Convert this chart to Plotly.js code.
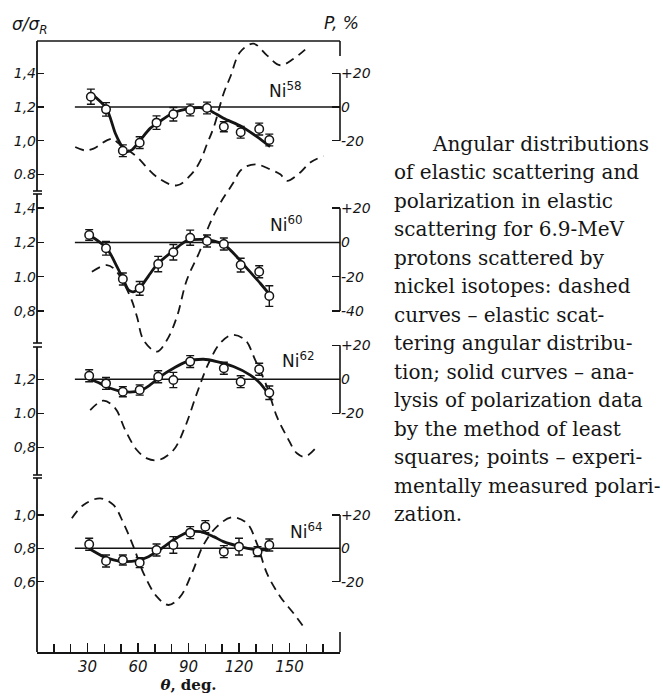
<!DOCTYPE html>
<html>
<head>
<meta charset="utf-8">
<script src="https://cdn.plot.ly/plotly-3.0.1.min.js"></script>
<style>
  html, body { margin: 0; padding: 0; background: #fff; }
  #chart { width: 663px; height: 697px; }
</style>
</head>
<body>
<div id="chart"></div>
<script>
// ---------------- data ----------------
// Ni-58
const theta58 = [32, 41, 51, 61, 71, 81, 91, 101, 111, 121, 132, 138];
const pol58 = [6.1, -1.4, -26.0, -21.2, -9.3, -4.3, -1.8, -0.6, -11.7, -15.0, -13.1, -19.6];
const err58 = [4.5, 4, 3.5, 3.5, 4, 4, 3.5, 3.5, 3, 3.5, 3.5, 3.5];
const fitTheta58 = [32, 41.1, 46.5, 49.4, 52.5, 56.4, 60.9, 67.2, 71.6, 81.1, 91, 97, 102.9, 110.8, 121.7, 130.6, 138.5];
const fitPol58 = [8.1, -0.6, -15.6, -21.6, -26.5, -25.5, -20.2, -12.7, -9.5, -3.4, -0.8, -0.4, -2.2, -6.7, -11.7, -17.6, -23.6];
const dashTheta58 = [22.7, 28.6, 33.6, 41.5, 45.4, 47.5, 54.4, 59.4, 71.2, 83.1, 92, 97, 101, 105, 110.8, 114.8, 120.7, 128.6, 136.6, 144.5, 152.4, 159.3];
const ratio58 = [0.962, 0.942, 0.953, 1.002, 1.012, 0.992, 0.942, 0.903, 0.784, 0.734, 0.804, 0.88, 0.98, 1.08, 1.279, 1.378, 1.527, 1.576, 1.507, 1.448, 1.487, 1.541];

// Ni-60
const theta60 = [31, 41, 51, 61, 72, 81, 91, 101, 111, 121, 132, 138];
const pol60 = [4.4, -3.4, -21.3, -26.8, -12.6, -5.7, 2.8, 0.9, -0.9, -13.2, -17.1, -31.3];
const err60 = [3.1, 4, 3.5, 4, 4.5, 4.5, 4.4, 3.5, 3.5, 4, 3.5, 6];
const fitTheta60 = [32, 41.5, 47.5, 51.4, 54.4, 57.3, 61.3, 66.2, 71.6, 81.5, 89, 97, 104.9, 111.4, 118.7, 124.7, 132.6, 137.5];
const fitPol60 = [3.8, -3.4, -14.1, -21.9, -27.8, -28.8, -26.2, -19.6, -12.6, -4.4, 1.0, 1.8, 1.0, -1.5, -8.3, -15.1, -23.8, -29.6];
const dashTheta60 = [32.6, 41.5, 46.5, 55.4, 59.4, 63.3, 71.2, 77.2, 83.1, 89, 97, 101.9, 108.8, 116.7, 120.7, 124.7, 130.6, 138.5, 144.5, 148.5, 156.4, 162.3, 170.2];
const ratio60 = [1.029, 1.068, 1.039, 0.883, 0.766, 0.630, 0.562, 0.630, 0.766, 0.981, 1.156, 1.292, 1.429, 1.55, 1.618, 1.646, 1.656, 1.627, 1.598, 1.56, 1.609, 1.667, 1.705];

// Ni-62
const theta62 = [31, 41, 51, 61, 72, 81, 91, 111, 121, 132, 138];
const pol62 = [2.1, -2.4, -7.3, -6.3, 1.5, -0.4, 10.4, 6.5, -1.4, 5.9, -7.9];
const err62 = [3.5, 3.5, 3, 3, 3.5, 4.5, 3.5, 3.5, 3.5, 3.5, 4];
const fitTheta62 = [30.6, 37.5, 43.5, 51.4, 61.3, 67.2, 73.2, 81.1, 89, 98.9, 106.9, 116.7, 126.7, 132.6, 138.5];
const fitPol62 = [0.6, -2.4, -5.3, -7.3, -6.7, -3.3, 1.6, 6.5, 10.4, 11.8, 10.4, 7.5, 2.5, -2.4, -10.2];
const dashTheta62 = [31.6, 39.5, 46.5, 52.4, 59.3, 65.3, 72.2, 81.1, 88, 95, 101.9, 108.8, 115.8, 123.7, 129.6, 136.6, 142.5, 148.5, 154.4, 159.3, 167.2];
const ratio62 = [1.019, 1.074, 1.029, 0.902, 0.784, 0.735, 0.725, 0.784, 0.921, 1.118, 1.294, 1.412, 1.461, 1.431, 1.314, 1.156, 0.980, 0.862, 0.765, 0.745, 0.814];

// Ni-64
const theta64 = [31, 41, 51, 61, 71, 81, 91, 100, 111, 120, 131, 138];
const pol64 = [2.4, -7.6, -7.0, -8.6, -1.0, 2.0, 9.4, 13.0, -2.0, 1.0, -2.0, 2.0];
const err64 = [3.6, 3.6, 3, 3, 3.6, 5, 3.6, 3.6, 3.6, 5, 3, 3.6];
const fitTheta64 = [31.6, 39.5, 45.4, 51.4, 59.3, 66.2, 73.2, 81.1, 89, 97, 104.9, 110.8, 120.7, 128.6, 137.5];
const fitPol64 = [-0.6, -5, -7, -8, -7.4, -5, -0.6, 5, 9.4, 10, 7, 4, 1, -0.6, -1];
const dashTheta64 = [20.7, 27.6, 37.5, 45.4, 51.4, 57.3, 63.3, 71.2, 78.1, 85.1, 92, 98.9, 106.9, 115.8, 124.7, 130.6, 136.6, 144.5, 152.4, 158.3];
const ratio64 = [0.98, 1.06, 1.10, 1.06, 0.95, 0.81, 0.65, 0.51, 0.46, 0.51, 0.65, 0.82, 0.93, 0.986, 0.95, 0.83, 0.65, 0.51, 0.41, 0.33];

// reference (zero-polarization) lines
const zeroLineTheta = [22.5, 180];
const zeroLinePol = [0, 0];

// tick labels
const xTickVals = [30, 60, 90, 120, 150];
const xTickText = ['30', '60', '90', '120', '150'];
const ratioTickVals = [[0.8, 1.0, 1.2, 1.4], [0.8, 1.0, 1.2, 1.4], [0.8, 1.0, 1.2], [0.6, 0.8, 1.0]];
const ratioTickText = [['0.8', '1,0', '1,2', '1,4'], ['0,8', '1.0', '1,2', '1,4'], ['0,8', '1.0', '1,2'], ['0,6', '0,8', '1,0']];
const polTickVals = [[-20, 0, 20], [-40, -20, 0, 20], [-20, 0, 20], [-20, 0, 20]];
const polTickText = [['-20', '0', '+20'], ['-40', '-20', '0', '+20'], ['-20', '0', '+20'], ['-20', '0', '+20']];
const isotopeMass = ['58', '60', '62', '64'];

const captionLines = [
  'Angular distributions',
  'of elastic scattering and',
  'polarization in elastic',
  'scattering for 6.9-MeV',
  'protons scattered by',
  'nickel isotopes: dashed',
  'curves – elastic scat-',
  'tering angular distribu-',
  'tion; solid curves – ana-',
  'lysis of polarization data',
  'by the method of least',
  'squares; points – experi-',
  'mentally measured polari-',
  'zation.'
];

// ---------------- layout geometry ----------------
const W = 663, H = 697;
const L = 37, R = 340, T = 41, B = 652;
const px = x => (x - L) / (R - L);
const py = y => (B - y) / (B - T);

// per panel: a reference tick value, its pixel row, pixel per unit, and the zero-P base value
const panelScale = [
  { v0: 1.2, y0: 107, s: 168.3, base: 1.2 },
  { v0: 1.1, y0: 259.6, s: 171.2, base: 1.2 },
  { v0: 1.0, y0: 413.3, s: 170, base: 1.2 },
  { v0: 0.8, y0: 548.3, s: 166.7, base: 0.8 }
];
const ranges = panelScale.map(p => [p.v0 - (B - p.y0) / p.s, p.v0 + (p.y0 - T) / p.s]);
const polRanges = ranges.map((r, i) => [(r[0] - panelScale[i].base) * 100, (r[1] - panelScale[i].base) * 100]);

const INK = '#151515';
const tickFont = { family: 'DejaVu Sans, Liberation Sans, sans-serif', size: 14, style: 'italic', color: INK };

const panels = [
  { th: theta58, p: pol58, e: err58, ft: fitTheta58, fp: fitPol58, dt: dashTheta58, r: ratio58 },
  { th: theta60, p: pol60, e: err60, ft: fitTheta60, fp: fitPol60, dt: dashTheta60, r: ratio60 },
  { th: theta62, p: pol62, e: err62, ft: fitTheta62, fp: fitPol62, dt: dashTheta62, r: ratio62 },
  { th: theta64, p: pol64, e: err64, ft: fitTheta64, fp: fitPol64, dt: dashTheta64, r: ratio64 }
];

const traces = [];
panels.forEach((pn, i) => {
  const ya = i === 0 ? 'y' : 'y' + (i + 1);
  const yp = 'y' + (i + 5);
  traces.push({
    x: pn.dt, y: pn.r, xaxis: 'x', yaxis: ya, type: 'scatter', mode: 'lines',
    line: { color: INK, width: 1.8, dash: '9px,6px', shape: 'spline', smoothing: 1 },
    hoverinfo: 'skip', showlegend: false
  });
  traces.push({
    x: zeroLineTheta, y: zeroLinePol, xaxis: 'x', yaxis: yp, type: 'scatter', mode: 'lines',
    line: { color: INK, width: 1.5 }, hoverinfo: 'skip', showlegend: false
  });
  traces.push({
    x: pn.ft, y: pn.fp, xaxis: 'x', yaxis: yp, type: 'scatter', mode: 'lines',
    line: { color: INK, width: 2.8, shape: 'spline', smoothing: 0.8 },
    hoverinfo: 'skip', showlegend: false
  });
  traces.push({
    x: pn.th, y: pn.p, xaxis: 'x', yaxis: yp, type: 'scatter', mode: 'markers',
    marker: { symbol: 'circle', size: 8.5, color: '#fff', line: { color: INK, width: 1.5 } },
    error_y: { type: 'data', array: pn.e, visible: true, color: INK, thickness: 1.4, width: 4 },
    showlegend: false
  });
});

const layout = {
  width: W, height: H,
  margin: { l: L, r: W - R, t: T, b: H - B, pad: 0 },
  paper_bgcolor: '#fff', plot_bgcolor: '#fff',
  showlegend: false,
  font: { family: 'DejaVu Sans, sans-serif', color: INK },
  xaxis: {
    range: [0, 180], domain: [0, 1], anchor: 'y',
    showgrid: false, zeroline: false,
    showline: true, linecolor: INK, linewidth: 1.6,
    ticks: 'inside', ticklen: 9, tickwidth: 1.5, tickcolor: INK,
    tickvals: xTickVals, ticktext: xTickText, tickfont: Object.assign({}, tickFont, { size: 15 }),
    minor: { ticks: 'inside', ticklen: 8, tickwidth: 1.5, tickcolor: INK, dtick: 10, tick0: 0, showgrid: false },
    title: { text: '<b><i>θ</i>, deg.</b>', font: { family: 'DejaVu Serif, serif', size: 15, color: INK }, standoff: 4 }
  },
  shapes: [],
  annotations: []
};

for (let i = 0; i < 4; i++) {
  const key = i === 0 ? 'yaxis' : 'yaxis' + (i + 1);
  const ax = {
    range: ranges[i], domain: [0, 1], anchor: 'x', side: 'left',
    showgrid: false, zeroline: false, showline: false,
    ticks: 'inside', ticklen: 7, tickwidth: 1.5, tickcolor: INK,
    tickvals: ratioTickVals[i], ticktext: ratioTickText[i], tickfont: tickFont
  };
  if (i > 0) ax.overlaying = 'y';
  layout[key] = ax;
  layout['yaxis' + (i + 5)] = {
    range: polRanges[i], domain: [0, 1], anchor: 'x', side: 'right', overlaying: 'y',
    showgrid: false, zeroline: false, showline: false,
    ticks: 'inside', ticklen: 8, tickwidth: 1.5, tickcolor: INK,
    tickvals: polTickVals[i], ticktext: polTickText[i], tickfont: tickFont
  };
  // right-hand P bracket
  const pv = polTickVals[i];
  layout.shapes.push({
    type: 'line', xref: 'paper', yref: 'y' + (i + 5),
    x0: 1, x1: 1, y0: Math.min(...pv), y1: Math.max(...pv),
    line: { color: INK, width: 1.6 }
  });
  // Ni label
  layout.annotations.push({
    xref: 'x', yref: i === 0 ? 'y' : 'y' + (i + 1),
    x: [136.8, 137.5, 144.5, 149.4][i], y: [1.30, 1.31, 1.315, 0.905][i],
    text: 'Ni<sup>' + isotopeMass[i] + '</sup>', showarrow: false,
    xanchor: 'left', yanchor: 'middle',
    font: { family: 'DejaVu Sans, sans-serif', size: 17, color: INK }
  });
}

// broken left axis segments with end caps
const segs = [[41, 191], [194, 343], [347, 475], [478, 652]];
segs.forEach((s, k) => {
  layout.shapes.push({ type: 'line', xref: 'paper', yref: 'paper', x0: 0, x1: 0, y0: py(s[0]), y1: py(s[1]), line: { color: INK, width: 1.8 } });
  if (k > 0) layout.shapes.push({ type: 'line', xref: 'paper', yref: 'paper', x0: px(33), x1: px(42), y0: py(s[0]), y1: py(s[0]), line: { color: INK, width: 1.6 } });
  if (k < 3) layout.shapes.push({ type: 'line', xref: 'paper', yref: 'paper', x0: px(33), x1: px(42), y0: py(s[1]), y1: py(s[1]), line: { color: INK, width: 1.6 } });
});
// top frame and right stubs
layout.shapes.push({ type: 'line', xref: 'paper', yref: 'paper', x0: 0, x1: 1, y0: 1, y1: 1, line: { color: INK, width: 1.6 } });
layout.shapes.push({ type: 'line', xref: 'paper', yref: 'paper', x0: 1, x1: 1, y0: 1, y1: py(56), line: { color: INK, width: 1.6 } });
layout.shapes.push({ type: 'line', xref: 'paper', yref: 'paper', x0: 1, x1: 1, y0: 0, y1: py(632), line: { color: INK, width: 1.6 } });

// axis titles at the top corners
layout.annotations.push({
  xref: 'paper', yref: 'paper', x: px(30), y: py(25), text: 'σ/σ<sub>R</sub>', showarrow: false,
  xanchor: 'center', yanchor: 'middle', font: { family: 'DejaVu Sans, sans-serif', size: 17, style: 'italic', color: INK }
});
layout.annotations.push({
  xref: 'paper', yref: 'paper', x: px(341), y: py(23), text: 'P, %', showarrow: false,
  xanchor: 'center', yanchor: 'middle', font: { family: 'DejaVu Sans, sans-serif', size: 17, style: 'italic', color: INK }
});

// caption
captionLines.forEach((line, k) => {
  layout.annotations.push({
    xref: 'paper', yref: 'paper', x: px(k === 0 ? 430 : 392), y: py(143.5 + 28.5 * k),
    text: line, showarrow: false, xanchor: 'left', yanchor: 'middle',
    font: { family: 'DejaVu Serif, serif', size: 20, color: INK }
  });
});

Plotly.newPlot('chart', traces, layout, { displayModeBar: false, staticPlot: true });
</script>
</body>
</html>
